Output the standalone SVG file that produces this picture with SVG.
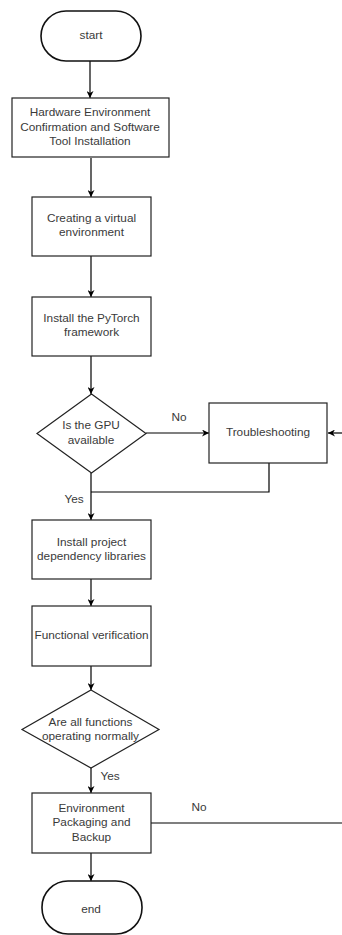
<svg xmlns="http://www.w3.org/2000/svg" width="342" height="935" viewBox="0 0 342 935">
<defs>
<marker id="ah" viewBox="0 0 10 10" refX="10" refY="5" markerWidth="7" markerHeight="7" markerUnits="userSpaceOnUse" orient="auto">
<path d="M0,0 L10,5 L0,10 L3,5 z" fill="#000"/>
</marker>
<style>
.shape{fill:#fff;stroke:#222;stroke-width:1.2}
.term{fill:#fff;stroke:#111;stroke-width:1.6}
.t{font-family:"Liberation Sans",Arial,sans-serif;font-size:11.8px;fill:#3a3a3a;text-anchor:middle;dominant-baseline:middle}
.conn{fill:none;stroke:#000;stroke-width:1.2}
.arr{marker-end:url(#ah)}
</style>
</defs>
<rect width="342" height="935" fill="#fff"/>
<g id="connectors">
<path class="conn arr" d="M90,49 V98"/>
<path class="conn arr" d="M91,158 V197"/>
<path class="conn arr" d="M91,256 V297"/>
<path class="conn arr" d="M91,356 V394"/>
<path class="conn arr" d="M146,433 H209"/>
<path class="conn arr" d="M342,433 H328"/>
<path class="conn" d="M269,463 V492 H91"/>
<path class="conn arr" d="M91,473 V520"/>
<path class="conn arr" d="M91,579 V606"/>
<path class="conn arr" d="M91,666 V690"/>
<path class="conn arr" d="M91,768 V793"/>
<path class="conn" d="M151,823 H342"/>
<path class="conn arr" d="M91,853 V881"/>
<text class="t" x="179" y="418">No</text>
<text class="t" x="74" y="500">Yes</text>
<text class="t" x="110" y="777">Yes</text>
<text class="t" x="199" y="808">No</text>
</g>
<g id="start">
<rect class="term" x="41" y="11" width="100" height="50" rx="25" ry="25"/>
<text class="t" x="91" y="36">start</text>
</g>
<g id="hw">
<rect class="shape" x="12" y="98" width="157" height="59"/>
<text class="t" x="90" y="113">Hardware Environment</text>
<text class="t" x="90" y="127.5">Confirmation and Software</text>
<text class="t" x="90" y="142">Tool Installation</text>
</g>
<g id="venv">
<rect class="shape" x="32" y="197" width="119" height="59"/>
<text class="t" x="91.5" y="219">Creating a virtual</text>
<text class="t" x="91.5" y="233">environment</text>
</g>
<g id="pytorch">
<rect class="shape" x="32" y="297" width="119" height="59"/>
<text class="t" x="91.5" y="319">Install the PyTorch</text>
<text class="t" x="91.5" y="333">framework</text>
</g>
<g id="gpu">
<polygon class="shape" points="91.5,394 146,433.5 91.5,473 37,433.5"/>
<text class="t" x="91" y="426">Is the GPU</text>
<text class="t" x="91" y="441">available</text>
</g>
<g id="troubleshoot">
<rect class="shape" x="209" y="403" width="118" height="60"/>
<text class="t" x="268" y="433">Troubleshooting</text>
</g>
<g id="deps">
<rect class="shape" x="32" y="520" width="119" height="59"/>
<text class="t" x="91.5" y="543">Install project</text>
<text class="t" x="91.5" y="557">dependency libraries</text>
</g>
<g id="verify">
<rect class="shape" x="32" y="606" width="119" height="60"/>
<text class="t" x="91.5" y="636">Functional verification</text>
</g>
<g id="allok">
<polygon class="shape" points="91,690 159,729.5 91,768 22,729.5"/>
<text class="t" x="90.5" y="723">Are all functions</text>
<text class="t" x="90.5" y="737">operating normally</text>
</g>
<g id="pack">
<rect class="shape" x="32" y="793" width="119" height="60"/>
<text class="t" x="91.5" y="809">Environment</text>
<text class="t" x="91.5" y="823">Packaging and</text>
<text class="t" x="91.5" y="838">Backup</text>
</g>
<g id="end">
<rect class="term" x="42" y="881" width="100" height="53" rx="26" ry="26"/>
<text class="t" x="91" y="910">end</text>
</g>
</svg>
